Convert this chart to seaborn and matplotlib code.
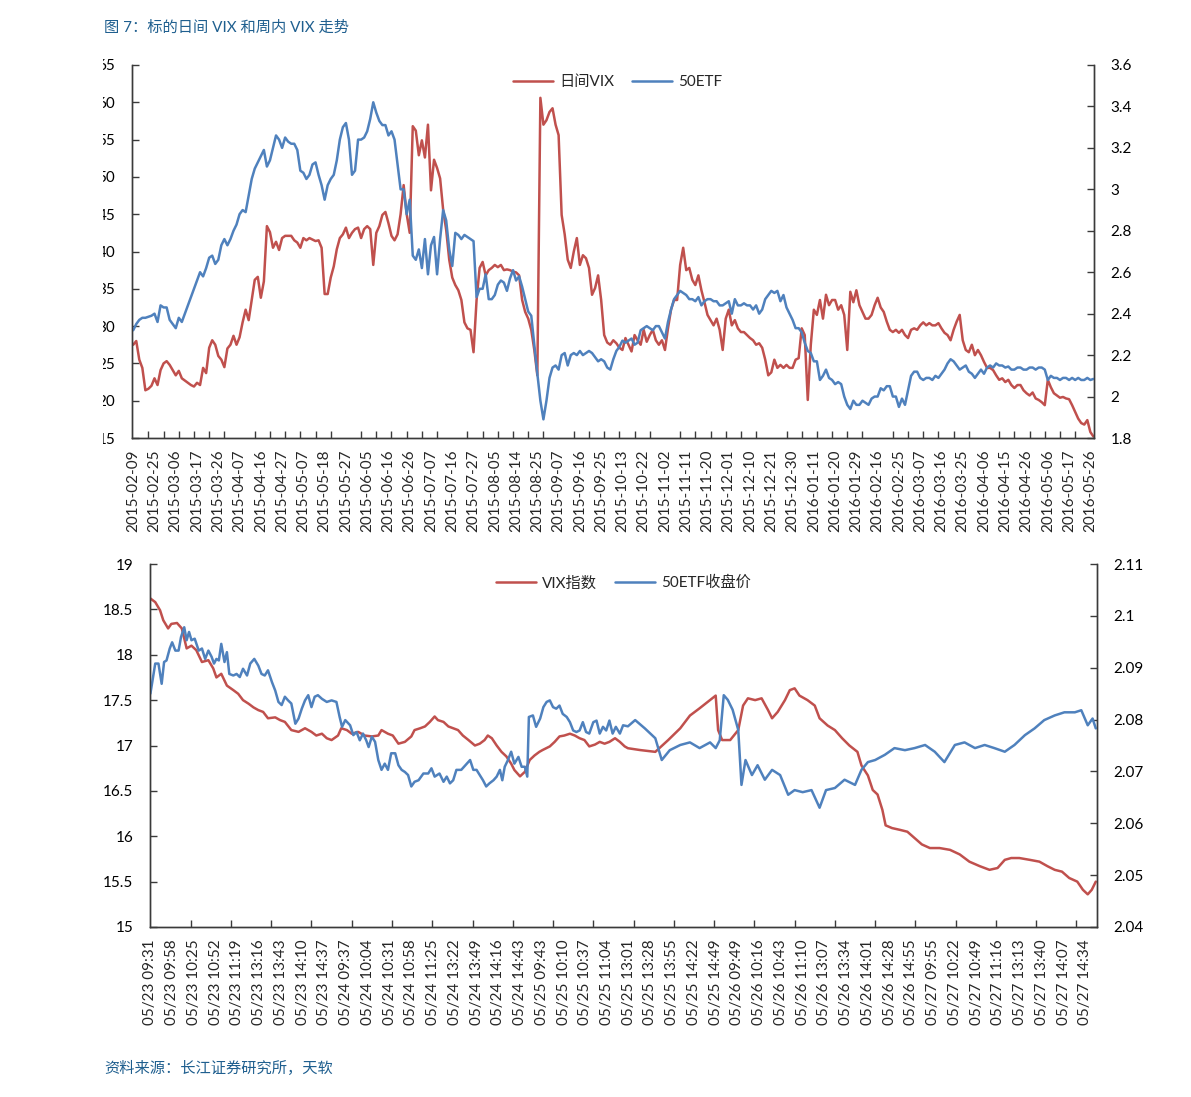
import matplotlib
matplotlib.use('Agg')
import matplotlib.pyplot as plt
from matplotlib.patches import Rectangle
import seaborn as sns
import numpy as np

sns.set_style('ticks')
plt.rcParams['font.family'] = ['Lato', 'Noto Sans CJK SC', 'DejaVu Sans']

RED = '#C0504D'
BLUE = '#4F81BD'
TXT = '#1F5F8F'

# ---- 上图：日度数据（交易日序号 0..316）----
day_labels = ['2015-02-09', '2015-02-25', '2015-03-06', '2015-03-17', '2015-03-26', '2015-04-07',
              '2015-04-16', '2015-04-27', '2015-05-07', '2015-05-18', '2015-05-27', '2015-06-05',
              '2015-06-16', '2015-06-26', '2015-07-07', '2015-07-16', '2015-07-27', '2015-08-05',
              '2015-08-14', '2015-08-25', '2015-09-07', '2015-09-16', '2015-09-25', '2015-10-13',
              '2015-10-22', '2015-11-02', '2015-11-11', '2015-11-20', '2015-12-01', '2015-12-10',
              '2015-12-21', '2015-12-30', '2016-01-11', '2016-01-20', '2016-01-29', '2016-02-16',
              '2016-02-25', '2016-03-07', '2016-03-16', '2016-03-25', '2016-04-06', '2016-04-15',
              '2016-04-26', '2016-05-06', '2016-05-17', '2016-05-26']

vix_daily = [
    27.5, 28.0, 25.5, 24.4, 21.4, 21.6, 22.0, 23.0, 22.1, 24.1,
    25.0, 25.3, 24.8, 24.1, 23.4, 24.0, 23.0, 22.7, 22.4, 22.1,
    21.9, 22.4, 22.1, 24.4, 23.7, 27.1, 28.1, 27.5, 26.0, 25.5,
    24.5, 27.0, 27.5, 28.7, 27.5, 28.5, 30.5, 32.2, 30.8, 33.5,
    36.2, 36.6, 33.8, 36.0, 43.4, 42.6, 40.5, 41.3, 40.2, 41.8,
    42.1, 42.1, 42.1, 41.5, 41.2, 40.5, 41.8, 41.5, 41.8, 41.6,
    41.4, 41.5, 40.5, 34.3, 34.3, 36.5, 38.0, 40.3, 41.8, 42.3,
    43.2, 41.8, 42.5, 43.0, 43.2, 41.8, 43.0, 43.4, 43.0, 38.2,
    42.5, 43.4, 44.9, 45.3, 43.8, 42.1, 41.5, 42.3, 45.0, 48.9,
    45.0, 42.5, 56.8, 56.2, 52.9, 54.9, 52.6, 57.0, 48.2, 52.3,
    51.2, 49.8, 45.6, 42.9, 38.9, 36.5, 35.5, 34.8, 33.5, 30.5,
    29.7, 29.5, 26.5, 33.5, 37.8, 38.6, 36.8, 37.5, 37.8, 38.2,
    37.9, 38.2, 37.5, 37.6, 37.5, 37.3, 37.2, 36.8, 33.5, 31.9,
    31.0, 29.5, 26.8, 23.4, 60.6, 57.0, 57.6, 58.7, 59.2, 57.0,
    55.6, 44.9, 42.3, 38.9, 37.8, 40.0, 41.8, 38.2, 39.5, 39.1,
    37.8, 34.2, 35.1, 36.8, 33.5, 28.8, 27.8, 27.5, 28.1, 27.7,
    27.1, 26.8, 28.4, 27.5, 26.6, 28.8, 28.1, 27.5, 29.5, 27.9,
    28.8, 29.5, 28.1, 27.5, 28.1, 26.8, 29.7, 32.2, 33.5, 33.5,
    38.2, 40.5, 37.5, 37.8, 36.2, 35.5, 36.8, 34.8, 33.2, 31.5,
    30.8, 30.1, 31.0, 29.5, 26.8, 31.0, 32.2, 30.1, 30.8, 29.7,
    29.2, 29.2, 28.8, 28.4, 28.1, 27.5, 27.7, 27.1, 25.5, 23.4,
    23.8, 25.5, 24.4, 24.8, 24.4, 24.8, 24.4, 24.4, 25.5, 25.7,
    29.7, 28.8, 20.1, 27.5, 32.2, 31.5, 33.5, 31.0, 34.2, 32.8,
    33.5, 33.5, 32.2, 32.8, 31.5, 26.8, 34.6, 33.2, 34.8, 32.8,
    31.9, 31.0, 31.0, 31.5, 32.8, 33.8, 32.5, 31.9, 30.6, 29.5,
    29.2, 29.5, 29.1, 29.5, 28.8, 28.4, 29.5, 29.7, 29.5, 30.1,
    30.5, 30.1, 30.4, 30.1, 30.1, 30.4, 29.7, 29.1, 28.8, 28.1,
    29.5, 30.6, 31.5, 28.1, 26.8, 26.5, 27.5, 26.1, 26.8, 26.1,
    25.2, 24.4, 24.4, 24.1, 23.4, 22.8, 23.0, 22.5, 22.8, 22.1,
    21.7, 22.1, 22.1, 21.4, 21.0, 20.7, 21.1, 20.3, 20.1, 19.8,
    19.4, 22.8, 21.8, 21.0, 20.7, 20.4, 20.5, 20.3, 20.2, 19.4,
    18.5, 17.6, 17.0, 16.8, 17.4, 15.8, 15.2]

etf_daily = [
    2.32, 2.35, 2.37, 2.38, 2.38, 2.385, 2.39, 2.40, 2.36, 2.44,
    2.43, 2.43, 2.37, 2.35, 2.33, 2.38, 2.36, 2.40, 2.44, 2.48,
    2.52, 2.56, 2.60, 2.58, 2.62, 2.67, 2.68, 2.64, 2.66, 2.73,
    2.76, 2.73, 2.76, 2.80, 2.83, 2.88, 2.90, 2.89, 2.97, 3.05,
    3.10, 3.13, 3.16, 3.19, 3.11, 3.14, 3.20, 3.26, 3.24, 3.20,
    3.25, 3.23, 3.22, 3.22, 3.19, 3.09, 3.08, 3.05, 3.07, 3.12,
    3.13, 3.07, 3.02, 2.95, 3.02, 3.05, 3.07, 3.14, 3.24, 3.30,
    3.32, 3.24, 3.07, 3.09, 3.24, 3.24, 3.25, 3.28, 3.34, 3.42,
    3.37, 3.33, 3.31, 3.31, 3.26, 3.28, 3.24, 3.12, 3.00, 3.00,
    2.88, 2.95, 2.68, 2.66, 2.71, 2.62, 2.76, 2.59, 2.73, 2.77,
    2.59, 2.76, 2.90, 2.85, 2.71, 2.63, 2.79, 2.78, 2.76, 2.78,
    2.77, 2.76, 2.75, 2.48, 2.52, 2.52, 2.59, 2.47, 2.47, 2.49,
    2.54, 2.56, 2.55, 2.51, 2.57, 2.61, 2.56, 2.58, 2.53, 2.47,
    2.41, 2.39, 2.25, 2.11, 1.98, 1.89, 1.98, 2.09, 2.14, 2.15,
    2.13, 2.20, 2.21, 2.15, 2.20, 2.21, 2.20, 2.22, 2.20, 2.21,
    2.22, 2.21, 2.19, 2.17, 2.18, 2.17, 2.14, 2.13, 2.18, 2.22,
    2.24, 2.27, 2.26, 2.27, 2.28, 2.25, 2.26, 2.32, 2.33, 2.34,
    2.33, 2.32, 2.34, 2.34, 2.31, 2.28, 2.36, 2.42, 2.47, 2.49,
    2.51, 2.50, 2.49, 2.47, 2.47, 2.46, 2.48, 2.44, 2.46, 2.47,
    2.47, 2.46, 2.46, 2.44, 2.44, 2.45, 2.46, 2.40, 2.47, 2.44,
    2.44, 2.45, 2.44, 2.44, 2.42, 2.44, 2.40, 2.42, 2.47, 2.49,
    2.51, 2.50, 2.51, 2.46, 2.49, 2.43, 2.40, 2.37, 2.33, 2.33,
    2.31, 2.26, 2.22, 2.21, 2.17, 2.17, 2.08, 2.10, 2.13, 2.09,
    2.08, 2.06, 2.07, 2.06, 2.00, 1.96, 1.94, 1.98, 1.96, 1.96,
    1.98, 1.97, 1.96, 1.99, 2.00, 2.00, 2.04, 2.03, 2.05, 2.05,
    2.00, 2.00, 1.95, 1.99, 1.96, 2.03, 2.10, 2.12, 2.12, 2.09,
    2.08, 2.09, 2.09, 2.08, 2.10, 2.09, 2.11, 2.13, 2.16, 2.18,
    2.17, 2.15, 2.13, 2.14, 2.15, 2.12, 2.11, 2.09, 2.11, 2.13,
    2.11, 2.14, 2.15, 2.14, 2.16, 2.15, 2.15, 2.14, 2.145, 2.13,
    2.13, 2.14, 2.14, 2.13, 2.13, 2.14, 2.14, 2.13, 2.14, 2.14,
    2.13, 2.08, 2.10, 2.09, 2.09, 2.08, 2.09, 2.09, 2.08, 2.09,
    2.08, 2.09, 2.08, 2.08, 2.09, 2.08, 2.085]

# ---- 下图：分钟数据（分钟序号）----
min_labels = ['05/23 09:31', '05/23 09:58', '05/23 10:25', '05/23 10:52', '05/23 11:19', '05/23 13:16',
              '05/23 13:43', '05/23 14:10', '05/23 14:37', '05/24 09:37', '05/24 10:04', '05/24 10:31',
              '05/24 10:58', '05/24 11:25', '05/24 13:22', '05/24 13:49', '05/24 14:16', '05/24 14:43',
              '05/25 09:43', '05/25 10:10', '05/25 10:37', '05/25 11:04', '05/25 13:01', '05/25 13:28',
              '05/25 13:55', '05/25 14:22', '05/25 14:49', '05/26 09:49', '05/26 10:16', '05/26 10:43',
              '05/26 11:10', '05/26 13:07', '05/26 13:34', '05/26 14:01', '05/26 14:28', '05/26 14:55',
              '05/27 09:55', '05/27 10:22', '05/27 10:49', '05/27 11:16', '05/27 13:13', '05/27 13:40',
              '05/27 14:07', '05/27 14:34']

vix_min_idx = [0, 6, 12, 16, 22, 26, 33, 39, 45, 51, 57, 64, 72, 78, 82, 88, 95, 103, 109, 115,
               122, 128, 134, 140, 146, 155, 161, 167, 175, 184, 192, 200, 206, 213, 219, 225, 233,
               237, 244, 250, 258, 266, 275, 283, 287, 295, 301, 308, 316, 324, 328, 335, 341, 347,
               353, 357, 364, 370, 376, 382, 388, 395, 403, 409, 415, 419, 424, 430, 436, 442, 448,
               452, 459, 465, 471, 477, 483, 487, 496, 502, 508, 514, 521, 527, 533, 539, 545, 552,
               558, 564, 570, 577, 583, 589, 593, 608, 627, 643, 658, 670, 682, 695, 702, 705, 710,
               720, 730, 736, 742, 751, 759, 767, 772, 779, 788, 794, 800, 806, 816, 825, 831, 841,
               850, 859, 868, 878, 883, 891, 897, 903, 909, 913, 921, 931, 940, 949, 958, 968, 980,
               993, 1005, 1017, 1030, 1042, 1052, 1061, 1069, 1079, 1092, 1104, 1114, 1123, 1132,
               1141, 1151, 1158, 1164, 1169, 1174]
vix_min = [18.62, 18.58, 18.49, 18.38, 18.29, 18.34, 18.35, 18.29, 18.07, 18.10, 18.05, 17.92, 17.94,
           17.85, 17.75, 17.79, 17.66, 17.61, 17.57, 17.50, 17.46, 17.42, 17.39, 17.37, 17.30, 17.31,
           17.28, 17.26, 17.17, 17.15, 17.19, 17.15, 17.11, 17.13, 17.08, 17.06, 17.11, 17.19, 17.17,
           17.13, 17.15, 17.11, 17.10, 17.11, 17.17, 17.13, 17.11, 17.02, 17.04, 17.10, 17.17, 17.19,
           17.21, 17.26, 17.32, 17.28, 17.26, 17.21, 17.19, 17.17, 17.11, 17.06, 17.00, 17.02, 17.06,
           17.11, 17.08, 17.00, 16.93, 16.88, 16.80, 16.73, 16.66, 16.71, 16.84, 16.89, 16.93, 16.95,
           16.99, 17.04, 17.10, 17.11, 17.13, 17.11, 17.08, 17.06, 16.99, 17.01, 17.04, 17.02, 17.04,
           17.08, 17.04, 16.99, 16.97, 16.95, 16.93, 17.06, 17.19, 17.33, 17.41, 17.50, 17.55, 17.17,
           17.06, 17.06, 17.17, 17.44, 17.52, 17.50, 17.52, 17.39, 17.30, 17.37, 17.50, 17.61, 17.63,
           17.55, 17.50, 17.44, 17.30, 17.22, 17.17, 17.08, 17.00, 16.93, 16.78, 16.67, 16.51, 16.46,
           16.29, 16.12, 16.09, 16.07, 16.05, 15.98, 15.91, 15.87, 15.87, 15.85, 15.80, 15.72, 15.67,
           15.63, 15.65, 15.74, 15.76, 15.76, 15.74, 15.72, 15.67, 15.63, 15.61, 15.54, 15.50, 15.41,
           15.36, 15.41, 15.50]

etf_min_idx = [0, 3, 6, 10, 14, 17, 20, 24, 27, 31, 35, 38, 42, 45, 48, 51, 55, 60, 64, 68, 72, 76,
               79, 82, 85, 88, 92, 95, 98, 103, 107, 111, 115, 120, 124, 129, 134, 138, 142, 146, 151,
               155, 159, 163, 167, 171, 175, 180, 184, 188, 192, 196, 200, 204, 208, 213, 219, 225,
               231, 235, 238, 242, 248, 252, 256, 260, 264, 268, 271, 275, 279, 283, 287, 291, 295,
               299, 304, 308, 312, 316, 320, 324, 328, 333, 339, 345, 349, 353, 359, 364, 368, 372,
               376, 380, 386, 393, 397, 401, 405, 409, 413, 417, 421, 426, 430, 434, 437, 440, 444,
               448, 452, 457, 461, 465, 468, 470, 475, 479, 484, 488, 492, 496, 500, 504, 508, 512,
               517, 521, 525, 529, 533, 537, 541, 545, 550, 554, 558, 562, 566, 570, 574, 578, 583,
               587, 593, 602, 614, 627, 635, 645, 658, 670, 682, 695, 702, 707, 712, 717, 723, 730,
               734, 739, 747, 754, 763, 772, 782, 792, 800, 810, 821, 831, 839, 850, 862, 875, 883,
               891, 900, 912, 924, 937, 949, 962, 974, 986, 999, 1011, 1024, 1036, 1048, 1061, 1073,
               1086, 1098, 1110, 1123, 1135, 1148, 1156, 1164, 1170, 1174]
etf_min = [2.0850, 2.0879, 2.0908, 2.0908, 2.0869, 2.0911, 2.0914, 2.0937, 2.0949, 2.0933, 2.0933,
           2.0959, 2.0978, 2.0953, 2.0969, 2.0953, 2.0956, 2.0933, 2.0937, 2.0917, 2.0933, 2.0921,
           2.0908, 2.0917, 2.0914, 2.0946, 2.0911, 2.0930, 2.0888, 2.0885, 2.0888, 2.0882, 2.0898,
           2.0885, 2.0908, 2.0917, 2.0904, 2.0888, 2.0885, 2.0895, 2.0872, 2.0856, 2.0834, 2.0828,
           2.0844, 2.0837, 2.0831, 2.0792, 2.0802, 2.0821, 2.0837, 2.0847, 2.0824, 2.0844, 2.0847,
           2.0840, 2.0834, 2.0837, 2.0834, 2.0805, 2.0786, 2.0799, 2.0789, 2.0770, 2.0776, 2.0760,
           2.0773, 2.0760, 2.0747, 2.0767, 2.0757, 2.0722, 2.0703, 2.0715, 2.0703, 2.0735, 2.0735,
           2.0712, 2.0703, 2.0699, 2.0693, 2.0671, 2.0680, 2.0683, 2.0696, 2.0696, 2.0706, 2.0690,
           2.0696, 2.0680, 2.0690, 2.0677, 2.0683, 2.0703, 2.0703, 2.0715, 2.0722, 2.0703, 2.0703,
           2.0693, 2.0683, 2.0671, 2.0677, 2.0683, 2.0690, 2.0703, 2.0683, 2.0709, 2.0722, 2.0738,
           2.0715, 2.0728, 2.0709, 2.0709, 2.0690, 2.0805, 2.0808, 2.0786, 2.0802, 2.0824, 2.0834,
           2.0837, 2.0824, 2.0821, 2.0827, 2.0811, 2.0805, 2.0795, 2.0779, 2.0776, 2.0779, 2.0795,
           2.0776, 2.0773, 2.0795, 2.0798, 2.0773, 2.0786, 2.0779, 2.0798, 2.0773, 2.0786, 2.0773,
           2.0789, 2.0787, 2.0799, 2.0783, 2.0764, 2.0722, 2.0741, 2.0751, 2.0756, 2.0745, 2.0756,
           2.0745, 2.0760, 2.0847, 2.0838, 2.0819, 2.0780, 2.0674, 2.0722, 2.0693, 2.0712, 2.0684,
           2.0703, 2.0693, 2.0655, 2.0664, 2.0660, 2.0664, 2.0630, 2.0664, 2.0668, 2.0684, 2.0674,
           2.0703, 2.0718, 2.0722, 2.0732, 2.0745, 2.0741, 2.0745, 2.0751, 2.0738, 2.0718, 2.0751,
           2.0756, 2.0745, 2.0751, 2.0745, 2.0738, 2.0751, 2.0770, 2.0783, 2.0799, 2.0808, 2.0814,
           2.0814, 2.0818, 2.0789, 2.0802, 2.0783]

fig = plt.figure(figsize=(11.91, 10.97), dpi=100)


def style_pair(ax, axr, left_ticks, left_lbls, right_ticks, right_lbls, ylim_l, ylim_r):
    for a in (ax, axr):
        a.spines['top'].set_visible(False)
        for s in ('left', 'right', 'bottom'):
            a.spines[s].set_color('#3a3a3a')
            a.spines[s].set_linewidth(1.0)
    ax.set_ylim(*ylim_l)
    axr.set_ylim(*ylim_r)
    ax.set_yticks(left_ticks)
    ax.set_yticklabels(left_lbls)
    axr.set_yticks(right_ticks)
    axr.set_yticklabels(right_lbls)
    ax.tick_params(axis='y', direction='in', length=5, width=1, pad=12, labelsize=11, colors='#3a3a3a',
                   labelcolor='black')
    axr.tick_params(axis='y', direction='in', length=5, width=1, pad=12, labelsize=11, colors='#3a3a3a',
                    labelcolor='black')
    ax.set_xlabel('')
    ax.set_ylabel('')
    axr.set_ylabel('')


# ---------------- 上图 ----------------
ax1 = fig.add_axes([132 / 1191, 1 - 438 / 1097, 962 / 1191, 373 / 1097])
ax1r = ax1.twinx()
days = np.arange(len(vix_daily))
sns.lineplot(x=days, y=vix_daily, ax=ax1, color=RED, linewidth=1.8, label='日间VIX', legend=False)
sns.lineplot(x=days, y=etf_daily, ax=ax1r, color=BLUE, linewidth=1.8, label='50ETF', legend=False)
style_pair(ax1, ax1r,
           np.arange(15, 66, 5), [str(v) for v in range(15, 66, 5)],
           np.arange(1.8, 3.61, 0.2), ['1.8', '2', '2.2', '2.4', '2.6', '2.8', '3', '3.2', '3.4', '3.6'],
           (15, 65), (1.8, 3.6))
ax1.set_xlim(-0.4, 316.2)
ax1.set_xticks(np.arange(0, len(day_labels) * 7, 7))
ax1.set_xticklabels(day_labels, rotation=90)
ax1.set_xticks(np.arange(0, 317, 5), minor=True)
ax1.tick_params(axis='x', which='major', length=0, pad=8, labelsize=11)
ax1.tick_params(axis='x', which='minor', direction='in', length=5, width=1, colors='#3a3a3a')
h1 = ax1.get_lines() + ax1r.get_lines()
ax1r.legend(h1, ['日间VIX', '50ETF'], loc='upper center', bbox_to_anchor=(0.505, 1.01), ncol=2,
            frameon=False, fontsize=11, handlelength=2.6, columnspacing=1.2, handletextpad=0.4)

# 左侧纵轴刻度在原图中被裁切
cover = Rectangle((0, 1 - 452 / 1097), 103 / 1191, 400 / 1097, transform=fig.transFigure,
                  facecolor='white', edgecolor='none', zorder=10)
fig.patches.append(cover)

# ---------------- 下图 ----------------
ax2 = fig.add_axes([150 / 1191, 1 - 927 / 1097, 947 / 1191, 363 / 1097])
ax2r = ax2.twinx()
sns.lineplot(x=vix_min_idx, y=vix_min, ax=ax2, color=RED, linewidth=1.8, label='VIX指数', legend=False)
sns.lineplot(x=etf_min_idx, y=etf_min, ax=ax2r, color=BLUE, linewidth=1.8, label='50ETF收盘价',
             legend=False)
style_pair(ax2, ax2r,
           np.arange(15, 19.01, 0.5), ['15', '15.5', '16', '16.5', '17', '17.5', '18', '18.5', '19'],
           np.arange(2.04, 2.1101, 0.01), ['2.04', '2.05', '2.06', '2.07', '2.08', '2.09', '2.1', '2.11'],
           (15, 19), (2.04, 2.11))
ax2.set_xlim(-0.5, 1175.5)
ax2.set_xticks(np.arange(0, len(min_labels) * 27, 27))
ax2.set_xticklabels(min_labels, rotation=90)
ax2.set_xticks(np.arange(0, 1176, 50), minor=True)
ax2.tick_params(axis='x', which='major', length=0, pad=9, labelsize=11)
ax2.tick_params(axis='x', which='minor', direction='in', length=5, width=1, colors='#3a3a3a')
h2 = ax2.get_lines() + ax2r.get_lines()
ax2r.legend(h2, ['VIX指数', '50ETF收盘价'], loc='upper center', bbox_to_anchor=(0.5, 1.005), ncol=2,
            frameon=False, fontsize=11, handlelength=2.6, columnspacing=1.2, handletextpad=0.4)

fig.text(104 / 1191, 1 - 28 / 1097, '图 7：标的日间 VIX 和周内 VIX 走势', color=TXT, fontsize=11, va='center')
fig.text(104 / 1191, 1 - 1068 / 1097, '资料来源：长江证券研究所，天软', color=TXT, fontsize=11, va='center')

fig.savefig('out.png', dpi=100)
